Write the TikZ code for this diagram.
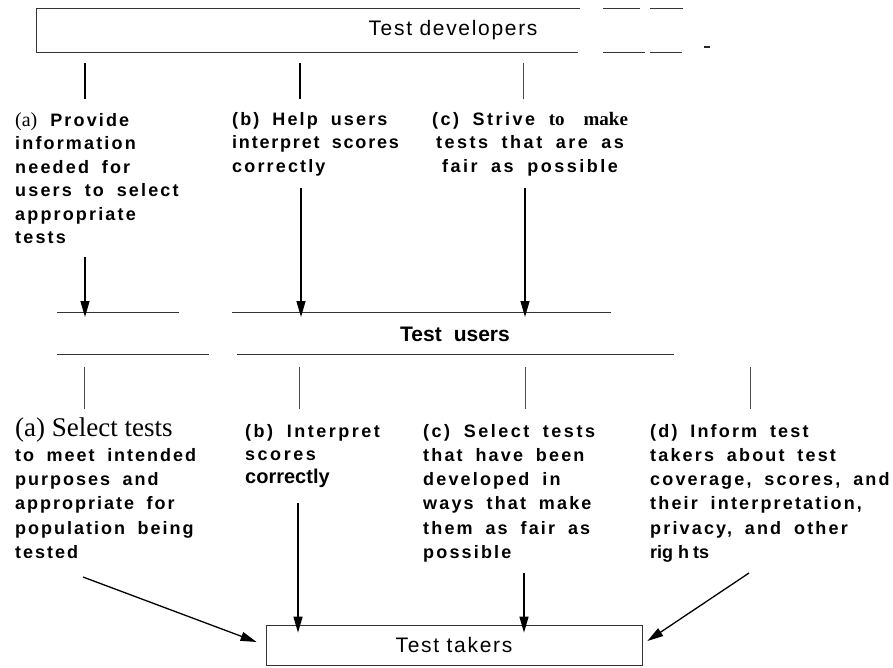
\documentclass[tikz,border=0pt]{standalone}
\usepackage{fontspec}
\usepackage{tikz}
\usetikzlibrary{arrows.meta}
\newfontfamily\hvfont{Liberation Sans}
\newfontfamily\dutyface{Liberation Sans}[WordSpace=1.8]
\newfontfamily\tmfont{Liberation Serif}
\newcommand{\serifpart}{\tmfont\mdseries}
\newcommand{\dutyfont}[2]{\dutyface\bfseries\fontsize{18}{#1}\selectfont\addfontfeature{LetterSpace=#2}}
\tikzset{
  frame/.style={draw=black!80, line width=0.8pt},
  rule/.style={draw=black!80, line width=0.9pt},
  stub/.style={draw=black, line width=1.2pt},
  thin/.style={draw=black!70, line width=0.7pt},
  flow/.style={draw=black, line width=1.3pt, -{Triangle[length=16pt,width=9pt]}},
  head/.style={font=\hvfont\fontsize{21}{24}\selectfont\addfontfeature{LetterSpace=8}, inner sep=0pt},
  duty/.style={font=\dutyfont{23.5}{12}, align=left, inner sep=0pt, anchor=north west},
}
\begin{document}
\begin{tikzpicture}[x=1pt,y=-1pt]
  \useasboundingbox (0,0) rectangle (893,667);
  % test developers
  \node[head] (dev) at (453,30) {Test developers};
  \draw[frame] (580,8) -- (36,8) -- (36,52) -- (578,52);
  \draw[frame] (603,8) -- (640,8) (650,8) -- (683,8);
  \draw[frame] (603,52) -- (645,52) (650,52) -- (682,52);
  \fill[black!85] (704,45.5) rectangle (710,48);
  \coordinate (da) at (85,63);
  \coordinate (db) at (300,63);
  \coordinate (dc) at (523,63);
  \draw[stub] (da) -- ++(0,36);
  \draw[stub] (db) -- ++(0,36);
  \draw[thin] (dc) -- ++(0,36);
  % what developers do
  \node[duty] (pa) at (15,112) {{\serifpart\fontsize{20}{23.5}\selectfont(a)} Provide\\information\\needed for\\users to select\\appropriate\\tests};
  \node[duty] (pb) at (232,112) {(b) Help users\\{\addfontfeature{LetterSpace=10}interpret scores}\\correctly};
  \node[duty, font=\dutyfont{23.5}{14}, align=center, anchor=north] (pc) at (530,112) {(c) Strive {\serifpart\bfseries\fontsize{19}{23.5}\selectfont to\quad make}\\tests that are as\\fair as possible};
  \coordinate (pa-end) at (85,257);
  \coordinate (pb-end) at (301,188);
  \coordinate (pc-end) at (525,188);
  % test users
  \node[font=\hvfont\bfseries\fontsize{21}{24}\selectfont, inner sep=0pt] (users) at (455,334) {Test\hspace{12pt}users};
  \draw[rule] (57,312) -- (179,312) (232,312) -- (611,312);
  \draw[rule] (57,354) -- (209,354) (237,354) -- (674,354);
  \coordinate (ul) at (57,312);
  \draw[flow] (pa-end) -- ([yshift=-5pt]pa-end |- ul);
  \draw[flow] (pb-end) -- ([yshift=-5pt]pb-end |- ul);
  \draw[flow] (pc-end) -- ([yshift=-5pt]pc-end |- ul);
  \coordinate (ua) at (84,367);
  \coordinate (ub) at (299,367);
  \coordinate (uc) at (525,367);
  \coordinate (ud) at (750,367);
  \draw[thin] (ua) -- ++(0,42);
  \draw[thin] (ub) -- ++(0,42);
  \draw[thin] (uc) -- ++(0,42);
  \draw[thin] (ud) -- ++(0,42);
  % what users do
  \node[duty, font=\dutyfont{24.3}{11}] (qa) at (15,418) {{\serifpart\fontsize{27}{24.3}\selectfont(a) Select tests}\\to meet intended\\purposes and\\appropriate for\\population being\\tested};
  \node[duty, font=\dutyfont{23}{14}] (qb) at (245,424) {(b) Interpret\\scores\\{\addfontfeature{LetterSpace=0}\fontsize{20}{23}\selectfont correctly}};
  \node[duty, font=\dutyfont{24.2}{12}] (qc) at (423,424) {{\addfontfeature{LetterSpace=14}(c) Select tests}\\that have been\\developed in\\ways that make\\them as fair as\\possible};
  \node[duty, font=\dutyfont{24.2}{12}] (qd) at (650,424) {(d) Inform test\\takers about test\\coverage, scores, and\\their interpretation,\\privacy, and other\\{\addfontfeature{LetterSpace=0}rig\hspace{5pt}h\hspace{4pt}ts}};
  % test takers
  \node[frame, head, minimum width=376pt, minimum height=40pt] (takers) at (454,645) {Test takers};
  \coordinate (qa-end) at (83,577);
  \coordinate (qb-end) at (298,503);
  \coordinate (qc-end) at (524,573);
  \coordinate (qd-end) at (749,573);
  \draw[flow] (qa-end) -- ([xshift=-9pt,yshift=3pt]takers.west);
  \draw[flow] (qb-end) -- ([yshift=-8pt]qb-end |- takers.north);
  \draw[flow] (qc-end) -- ([yshift=-8pt]qc-end |- takers.north);
  \draw[flow] (qd-end) -- ([xshift=5pt,yshift=4pt]takers.east);
\end{tikzpicture}
\end{document}
